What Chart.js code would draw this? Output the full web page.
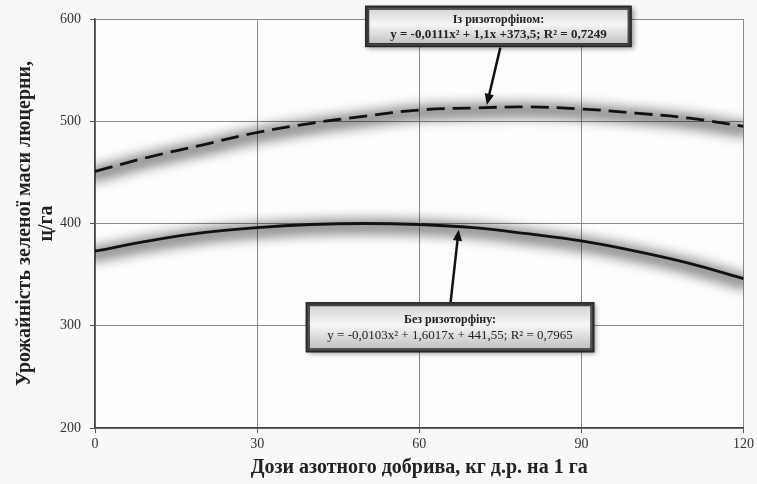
<!DOCTYPE html>
<html>
<head>
<meta charset="utf-8">
<script src="https://cdn.jsdelivr.net/npm/chart.js@4"></script>
<style>
  html, body { margin: 0; padding: 0; background: #f8f8f8; }
  #wrap { width: 757px; height: 484px; }
</style>
</head>
<body>
<div id="wrap"><canvas id="chart" width="757" height="484"></canvas></div>
<script>
// Дози азоту (кг д.р./га)
const doses = [0, 10, 20, 30, 40, 50, 60, 70, 80, 90, 100, 110, 120];
// Із ризоторфіном (штрихова)
const withRhizo = [451, 465, 477, 489, 498, 505, 511, 513, 514, 512, 508, 503, 495];
// Без ризоторфіну (суцільна)
const withoutRhizo = [373, 383, 391, 396, 399, 400, 399, 396, 390, 383, 373, 361, 346];

const xTicks = [0, 30, 60, 90, 120];
const yTicks = [200, 300, 400, 500, 600];

// Підписи-виноски (в одиницях даних)
const notes = [
  {
    lines: ["Із ризоторфіном:", "y = -0,0111x² + 1,1x +373,5; R² = 0,7249"],
    box: [50, 99.3, 613, 572.5], // xLeft, xRight, yTop, yBottom
    arrow: [75, 572, 72.5, 516],  // від, до
    boldEq: true
  },
  {
    lines: ["Без ризоторфіну:", "y = -0,0103x² + 1,6017x + 441,55; R² = 0,7965"],
    box: [39, 92.4, 323, 274],
    arrow: [65.8, 323, 67.3, 394],
    boldEq: false
  }
];

const serif = "'Liberation Serif', 'DejaVu Serif', serif";

// сіре розмите "сяйво" під лініями
const shadowPlugin = {
  id: "lineShadow",
  beforeDatasetsDraw(chart) {
    const ctx = chart.ctx;
    const a = chart.chartArea;
    ctx.save();
    ctx.beginPath();
    ctx.rect(a.left, a.top, a.right - a.left, a.bottom - a.top);
    ctx.clip();
    ctx.lineCap = "round";
    ctx.filter = "blur(6px)";
    ctx.strokeStyle = "rgba(0,0,0,0.45)";
    ctx.lineWidth = 15;
    chart.data.datasets.forEach((ds, i) => {
      const pts = chart.getDatasetMeta(i).data;
      ctx.beginPath();
      pts.forEach((p, j) => {
        if (j === 0) ctx.moveTo(p.x, p.y + 3);
        else {
          const prev = pts[j - 1];
          ctx.bezierCurveTo(prev.cp2x, prev.cp2y + 3, p.cp1x, p.cp1y + 3, p.x, p.y + 3);
        }
      });
      ctx.stroke();
    });
    ctx.restore();
  }
};

const bgPlugin = {
  id: "bg",
  beforeDraw(chart) {
    const ctx = chart.ctx;
    const a = chart.chartArea;
    ctx.save();
    ctx.fillStyle = "#f8f8f8";
    ctx.fillRect(0, 0, chart.width, chart.height);
    ctx.fillStyle = "#fdfdfd";
    ctx.fillRect(a.left, a.top, a.right - a.left, a.bottom - a.top);
    ctx.restore();
  }
};

function drawArrow(ctx, x1, y1, x2, y2) {
  const ang = Math.atan2(y2 - y1, x2 - x1);
  const len = 12;
  ctx.strokeStyle = "#111";
  ctx.fillStyle = "#111";
  ctx.lineWidth = 2.5;
  ctx.beginPath();
  ctx.moveTo(x1, y1);
  ctx.lineTo(x2 - Math.cos(ang) * 6, y2 - Math.sin(ang) * 6);
  ctx.stroke();
  ctx.beginPath();
  ctx.moveTo(x2, y2);
  ctx.lineTo(x2 - len * Math.cos(ang - 0.4), y2 - len * Math.sin(ang - 0.4));
  ctx.lineTo(x2 - len * Math.cos(ang + 0.4), y2 - len * Math.sin(ang + 0.4));
  ctx.closePath();
  ctx.fill();
}

const notesPlugin = {
  id: "notes",
  afterDraw(chart) {
    const ctx = chart.ctx;
    const xs = chart.scales.x, ys = chart.scales.y;
    notes.forEach(n => {
      const l = xs.getPixelForValue(n.box[0]);
      const r = xs.getPixelForValue(n.box[1]);
      const t = ys.getPixelForValue(n.box[2]);
      const b = ys.getPixelForValue(n.box[3]);
      ctx.save();
      drawArrow(ctx,
        xs.getPixelForValue(n.arrow[0]), ys.getPixelForValue(n.arrow[1]),
        xs.getPixelForValue(n.arrow[2]), ys.getPixelForValue(n.arrow[3]));
      // рамка з тінню
      ctx.shadowColor = "rgba(0,0,0,0.4)";
      ctx.shadowBlur = 5;
      ctx.shadowOffsetX = 2;
      ctx.shadowOffsetY = 2;
      ctx.fillStyle = "#3a3a3a";
      ctx.fillRect(l, t, r - l, b - t);
      ctx.shadowColor = "transparent";
      const g = ctx.createLinearGradient(0, t, 0, b);
      g.addColorStop(0, "#cfcfcf");
      g.addColorStop(0.45, "#f6f6f6");
      g.addColorStop(1, "#b8b8b8");
      ctx.fillStyle = g;
      ctx.fillRect(l + 3, t + 3, r - l - 6, b - t - 6);
      ctx.strokeStyle = "#222";
      ctx.lineWidth = 1;
      ctx.strokeRect(l + 3.5, t + 3.5, r - l - 7, b - t - 7);
      ctx.strokeRect(l + 0.5, t + 0.5, r - l - 1, b - t - 1);
      // текст
      const cx = (l + r) / 2;
      const cy = (t + b) / 2;
      ctx.fillStyle = "#222";
      ctx.textAlign = "center";
      ctx.textBaseline = "middle";
      ctx.font = "bold 12px " + serif;
      ctx.fillText(n.lines[0], cx, cy - 7);
      ctx.font = (n.boldEq ? "bold " : "") + "13px " + serif;
      ctx.fillText(n.lines[1], cx, cy + 8);
      ctx.restore();
    });
  }
};

new Chart(document.getElementById("chart"), {
  type: "line",
  data: {
    datasets: [
      {
        label: "Із ризоторфіном",
        data: doses.map((d, i) => ({ x: d, y: withRhizo[i] })),
        borderColor: "#111",
        borderWidth: 2.8,
        borderDash: [18, 8],
        pointRadius: 0,
        tension: 0.4,
        fill: false
      },
      {
        label: "Без ризоторфіну",
        data: doses.map((d, i) => ({ x: d, y: withoutRhizo[i] })),
        borderColor: "#111",
        borderWidth: 2.8,
        pointRadius: 0,
        tension: 0.4,
        fill: false
      }
    ]
  },
  options: {
    responsive: false,
    animation: false,
    layout: { padding: { top: 19, right: 6, bottom: 4, left: 0 } },
    plugins: {
      legend: { display: false },
      tooltip: { enabled: false }
    },
    scales: {
      x: {
        type: "linear",
        min: 0,
        max: 120,
        afterBuildTicks: s => { s.ticks = xTicks.map(v => ({ value: v })); },
        ticks: { color: "#333", font: { family: serif, size: 14 }, padding: 3 },
        grid: { color: "#8a8a8a", lineWidth: 1, tickLength: 5, tickColor: "#555" },
        border: { color: "#444", width: 1.5 },
        title: {
          display: true,
          text: "Дози азотного добрива, кг д.р. на 1 га",
          color: "#222",
          font: { family: serif, size: 20, weight: "bold" },
          padding: { top: 0, bottom: 0 }
        },
        afterFit: s => { s.height = 52; }
      },
      y: {
        min: 200,
        max: 600,
        afterBuildTicks: s => { s.ticks = yTicks.map(v => ({ value: v })); },
        ticks: { color: "#333", font: { family: serif, size: 14 }, padding: 9 },
        grid: { color: "#8a8a8a", lineWidth: 1, tickLength: 5, tickColor: "#555" },
        border: { color: "#444", width: 1.5 },
        title: {
          display: true,
          text: ["Урожайність зеленої маси люцерни,", "ц/га"],
          color: "#222",
          font: { family: serif, size: 20, weight: "bold", lineHeight: 1.1 },
          padding: { top: 14, bottom: 0 }
        },
        afterFit: s => { s.width = 95; }
      }
    }
  },
  plugins: [bgPlugin, shadowPlugin, notesPlugin]
});
</script>
</body>
</html>
